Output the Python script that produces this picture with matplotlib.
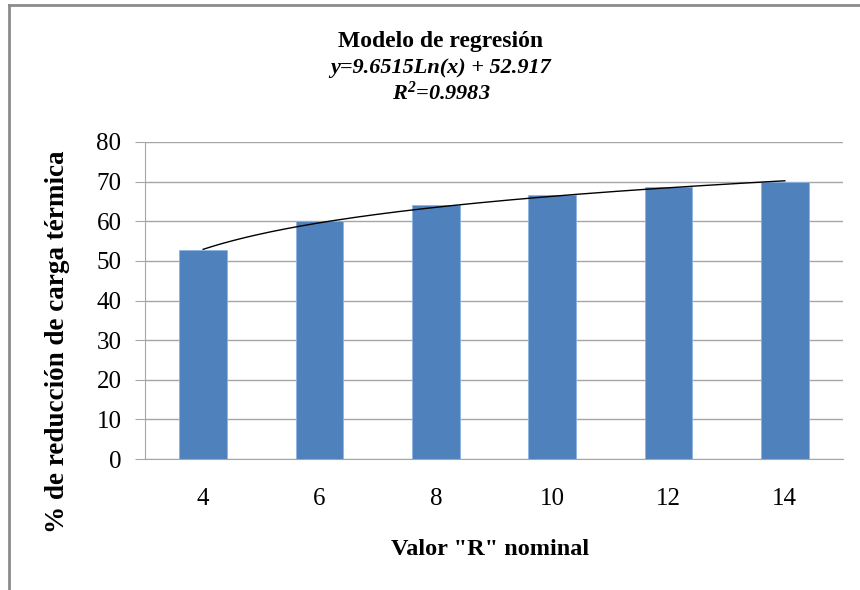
import numpy as np
import matplotlib
matplotlib.use("Agg")
import matplotlib.pyplot as plt
from matplotlib.lines import Line2D

categories = ["4", "6", "8", "10", "12", "14"]
values = [52.7, 60.0, 64.0, 66.6, 68.7, 70.0]
yticks = [0, 10, 20, 30, 40, 50, 60, 70, 80]
trend_a = 9.6515
trend_b = 52.917
r2 = 0.9983

plt.rcParams['font.family'] = ['Liberation Serif', 'DejaVu Serif']
plt.rcParams['mathtext.fontset'] = 'custom'
plt.rcParams['mathtext.rm'] = 'Liberation Serif'
plt.rcParams['mathtext.it'] = 'Liberation Serif:italic'
plt.rcParams['mathtext.bf'] = 'Liberation Serif:bold'
plt.rcParams['mathtext.bfit'] = 'Liberation Serif:bold:italic'

fig = plt.figure(figsize=(8.6, 5.9), dpi=100)
ax = fig.add_axes([145/860, 1-459/590, (843-145)/860, (459-142)/590])

x = np.arange(1, len(categories) + 1)
ax.bar(x, values, width=0.41, color='#4F81BD', edgecolor='#8EB4E3', linewidth=0.6, zorder=2)

xt = np.linspace(1, len(categories), 200)
ax.plot(xt, trend_a * np.log(xt) + trend_b, color='black', lw=1.0, zorder=3)

ax.set_xlim(0.5, len(categories) + 0.5)
ax.set_ylim(0, 80)
ax.set_yticks(yticks)
ax.set_xticks(x)
ax.set_xticklabels(categories)
ax.yaxis.grid(True, color='#A6A6A6', lw=1.0, zorder=0)
ax.set_axisbelow(True)
for s in ['top', 'right']:
    ax.spines[s].set_visible(False)
ax.spines['left'].set_color('#A6A6A6')
ax.spines['bottom'].set_color('#A6A6A6')
ax.tick_params(axis='y', length=7, color='#A6A6A6', labelsize=18, pad=10)
ax.tick_params(axis='x', length=0, labelsize=18, pad=21)

ax.set_xlabel('Valor "R" nominal', fontsize=17.5, fontweight='bold')
ax.xaxis.set_label_coords((490-145)/698, (459-539)/317)
ax.set_ylabel('% de reducción de carga térmica', fontsize=19.5, fontweight='bold')
ax.yaxis.set_label_coords((70-145)/698, (459-342)/317)

fig.text(441/860, 1-42/590, 'Modelo de regresión', ha='center', va='center', fontsize=17, fontweight='bold')
fig.text(441/860, 1-68/590, 'y=9.6515Ln(x) + 52.917', ha='center', va='center', fontsize=16, fontweight='bold', style='italic')
fig.text(441/860, 1-93/590, r'$\mathbfit{R^2}$' + '=' + f'{r2}', ha='center', va='center', fontsize=16, fontweight='bold', style='italic')

fig.add_artist(Line2D([9/860, 9/860], [0, 1-5/590], color='#8C8C8C', lw=2, transform=fig.transFigure))
fig.add_artist(Line2D([9/860, 1], [1-5/590, 1-5/590], color='#8C8C8C', lw=2, transform=fig.transFigure))

fig.savefig('out.png', dpi=100)
